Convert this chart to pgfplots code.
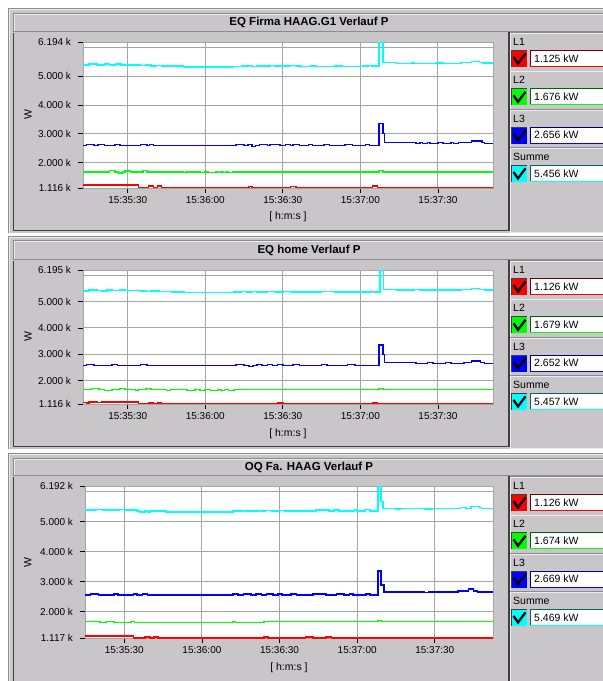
\documentclass[border=0pt]{standalone}
\usepackage{fontspec}
\setmainfont{Liberation Sans}
\usepackage{pgfplots}
\pgfplotsset{compat=1.18}
\definecolor{bg}{RGB}{200,198,200}
\definecolor{dk}{RGB}{64,64,64}
\definecolor{midg}{RGB}{140,140,140}
\definecolor{ltg}{RGB}{236,236,236}
\definecolor{grd}{RGB}{165,165,165}
\definecolor{cLa}{RGB}{255,0,0}
\definecolor{cLb}{RGB}{0,255,0}
\definecolor{cLc}{RGB}{0,0,255}
\definecolor{cS}{RGB}{0,255,255}
\definecolor{dLa}{RGB}{110,0,0}
\definecolor{dLb}{RGB}{0,100,0}
\definecolor{dLc}{RGB}{0,0,110}
\definecolor{dS}{RGB}{0,100,100}
\newcommand{\tfont}{\fontsize{11.5}{13}\selectfont\bfseries}
\newcommand{\lfont}{\fontsize{10.5}{12}\selectfont}
\newcommand{\panel}[5]{%
  \fill[bg] (8,#1) rectangle (610,#4+2);
  \draw[midg] (8.5,#4+2) -- (8.5,#1+0.5) -- (610,#1+0.5);
  \draw[ltg] (9.5,#4+2) -- (9.5,#1+1.5) -- (610,#1+1.5);
  \draw[midg,line width=1pt] (13.5,#3-0.5) -- (13.5,#2+0.5) -- (612,#2+0.5);
  \draw[ltg] (14.5,#3-1.5) -- (14.5,#2+1.5) -- (612,#2+1.5);
  \draw[midg,line width=1pt] (13.5,#3-0.5) -- (612,#3-0.5);
  \node[font=\tfont,inner sep=0pt] at (309,{(#2+#3)/2}) {#5};
  \draw[dk,line width=1pt] (13.5,#4) -- (13.5,#3+0.5);
  \draw[dk,line width=1.5pt] (13,#4-0.75) -- (509,#4-0.75) -- (509,#3);
  \draw[ltg] (510.5,#3+0.5) -- (510.5,#4+1) -- (612,#4+1);
}
\newcommand{\lentry}[6]{%
  \draw[midg] (510,#1-0.5) -- (612,#1-0.5);
  \draw[ltg,line width=1pt] (510,#1+0.5) -- (612,#1+0.5);
  \node[anchor=west,font=\lfont,inner sep=0pt] at (513,#1+9) {#2};
  \fill[#3] (511,#1+17) rectangle (527,#1+34);
  \draw[dk,line width=1pt] (511.5,#1+34) -- (511.5,#1+17.5) -- (527,#1+17.5);
  \draw[black,line width=2.3pt] (513.5,#1+24) -- (518,#1+30.5) -- (525.5,#1+20.5);
  \fill[white] (529.5,#1+17) rectangle (612,#1+34);
  \draw[#4,line width=1pt] (530,#1+34) -- (530,#1+17.5) -- (612,#1+17.5);
  \draw[#3,line width=1pt] (530,#1+33.5) -- (612,#1+33.5);
  \node[anchor=west,font=\lfont,inner sep=0pt] at (534,#1+25.5) {#5};
}
\pgfplotsset{
  panel/.style={
    scale only axis,
    anchor=south west,
    axis background/.style={fill=white},
    axis line style={draw=grd},
    xtick={30,60,90,120,150},
    xticklabels={15:35:30,15:36:00,15:36:30,15:37:00,15:37:30},
    xtick pos=left, ytick pos=left,
    tick align=outside,
    major tick length=5pt,
    minor tick length=0pt,
    tick style={black,line width=0.8pt},
    xmajorgrids=true,
    ymajorgrids=false,
    yminorgrids=true,
    minor ytick={2000,3000,4000,5000,6000},
    grid style={grd,line width=1pt},
    minor grid style={grd,line width=1pt},
    tick label style={font=\fontsize{10}{12}\selectfont},
    yticklabel style={xshift=-3.5pt},
    label style={font=\fontsize{10.5}{12}\selectfont},
    xlabel={[ h:m:s ]},
    ylabel={W},
    every axis plot/.append style={const plot,line width=1.6pt},
  }
}
\begin{document}
\begin{tikzpicture}
\useasboundingbox (0,0) rectangle (603pt,-681pt);
\begin{scope}
\clip (0,0) rectangle (603pt,-681pt);
\begin{scope}[x=1pt,y=-1pt]
\fill[white] (0,0) rectangle (603,681);
\panel{8}{13}{32}{231}{EQ Firma HAAG.G1 Verlauf P}
\panel{236}{240}{260}{447}{EQ home Verlauf P}
\panel{453}{458}{476}{690}{OQ Fa. HAAG Verlauf P}
\end{scope}

% ---------- Panel 1 ----------
\begin{axis}[panel, at={(83pt,-188pt)}, width=410pt, height=146pt,
  xmin=12.7, xmax=171.3, ymin=1116, ymax=6194,
  ytick={1116,2000,3000,4000,5000,6194},
  yticklabels={1.116 k,2.000 k,3.000 k,4.000 k,5.000 k,6.194 k},
  xlabel style={at={(axis description cs:0.5,-0.199)},anchor=center},
  ylabel style={at={(axis description cs:-0.134,0.5)},anchor=center}]
\addplot[cS] coordinates {(12.7,5400)(15,5430)(18,5400)(21,5430)(23,5400)(25.5,5425)(27.5,5400)(32,5385)(35,5370)(37,5390)(39,5365)(41,5370)(43,5355)(47,5360)(51.5,5315)(70.8,5340)(74,5350)(77,5370)(78,5340)(80,5355)(85,5375)(87,5355)(90,5360)(93,5370)(95,5350)(97,5345)(101,5355)(103,5340)(110,5350)(113,5345)(121,5350)(123,5370)(124.5,5350)(127.3,6194)(128.8,5475)(134,5452)(140,5470)(141,5452)(149,5460)(151,5470)(152,5452)(159,5475)(163,5510)(166,5480)(167.5,5460)(171.3,5460)};
\addplot[cLc] coordinates {(12.7,2588)(14,2623)(17,2588)(18.5,2623)(21,2588)(25,2623)(27,2588)(35,2623)(37.5,2588)(38.5,2623)(40,2588)(72,2623)(75,2588)(76.5,2623)(78,2553)(79.5,2588)(81,2623)(84,2588)(85,2623)(89,2588)(91,2623)(93,2588)(94,2623)(96.5,2588)(100,2623)(101.5,2588)(106,2623)(108,2588)(114,2623)(117,2588)(122,2623)(123.5,2588)(127.3,3366)(128.8,3018)(129.3,2692)(141.5,2658)(143,2692)(144,2658)(146,2692)(147,2658)(150,2692)(152,2658)(155,2692)(156,2658)(158,2692)(163,2750)(167,2692)(168,2658)(171.3,2658)};
\addplot[cLb] coordinates {(12.7,1683)(23,1718)(25,1683)(26.5,1648)(28,1683)(29,1710)(31,1683)(36,1718)(37.5,1683)(51.5,1650)(52.5,1683)(58,1650)(60,1683)(61,1650)(64,1683)(65,1650)(66,1683)(67,1650)(68,1683)(69,1650)(70.5,1683)(127.3,1718)(128.8,1683)(171.3,1683)};
\addplot[cLa] coordinates {(12.7,1220)(34.1,1140)(38,1180)(40,1140)(41.5,1180)(43,1140)(77,1175)(78,1140)(93,1175)(95,1140)(124.7,1180)(126.6,1140)(171.3,1140)};
\end{axis}

% ---------- Panel 2 ----------
\begin{axis}[panel, at={(83pt,-404pt)}, width=410pt, height=134pt,
  xmin=12.7, xmax=171.3, ymin=1116, ymax=6195,
  ytick={1116,2000,3000,4000,5000,6195},
  yticklabels={1.116 k,2.000 k,3.000 k,4.000 k,5.000 k,6.195 k},
  xlabel style={at={(axis description cs:0.5,-0.224)},anchor=center},
  ylabel style={at={(axis description cs:-0.134,0.5)},anchor=center}]
\addplot[cS] coordinates {(12.7,5410)(15,5445)(18,5420)(20,5410)(22,5440)(24,5415)(27,5445)(29,5420)(35,5400)(37,5380)(39,5400)(42,5375)(45,5385)(47,5370)(52,5350)(71,5360)(74,5375)(76,5360)(78,5380)(80,5360)(84,5385)(87,5365)(90,5380)(93,5370)(96,5365)(105,5375)(110,5360)(118,5370)(124,5385)(125,5365)(127.5,6195)(129,5450)(134,5435)(141,5450)(143,5435)(152,5445)(159,5460)(163,5490)(166,5460)(168,5440)(171.3,5440)};
\addplot[cLc] coordinates {(12.7,2583)(14,2621)(17,2583)(24,2621)(26,2583)(35,2621)(37.5,2583)(72,2621)(75,2583)(77,2545)(78.5,2583)(80,2621)(82,2583)(84,2621)(86,2583)(88,2621)(90,2583)(94,2621)(96.5,2583)(105,2621)(107,2583)(115,2621)(118,2583)(127.3,3352)(128.8,3000)(129.3,2690)(141.5,2655)(146,2690)(148,2655)(153,2690)(155,2655)(160,2690)(163,2735)(166.5,2690)(168,2655)(171.3,2655)};
\addplot[cLb] coordinates {(12.7,1673)(16,1711)(19,1673)(21,1635)(24,1673)(27,1711)(29,1673)(33,1635)(34,1673)(37,1711)(39,1673)(45,1635)(46.5,1673)(53,1635)(56,1673)(58,1635)(60,1673)(62,1635)(65,1673)(66,1635)(67.5,1673)(69,1635)(71,1673)(127.3,1711)(128.8,1673)(171.3,1673)};
\addplot[cLa] coordinates {(12.7,1180)(14,1165)(15,1185)(18,1170)(20,1190)(27,1195)(30,1185)(34.1,1130)(38,1165)(40,1130)(41.5,1165)(43,1130)(88,1160)(90,1130)(124.7,1165)(126.6,1130)(171.3,1130)};
\end{axis}

% ---------- Panel 3 ----------
\begin{axis}[panel, at={(85pt,-638.3pt)}, width=408pt, height=152.3pt,
  xmin=14.8, xmax=172.5, ymin=1117, ymax=6192,
  ytick={1117,2000,3000,4000,5000,6192},
  yticklabels={1.117 k,2.000 k,3.000 k,4.000 k,5.000 k,6.192 k},
  xlabel style={at={(axis description cs:0.5,-0.195)},anchor=center},
  ylabel style={at={(axis description cs:-0.140,0.5)},anchor=center}]
\addplot[cS] coordinates {(14.8,5392)(19,5414)(21.5,5392)(28,5414)(30,5392)(35,5359)(36,5325)(38,5359)(39,5325)(40,5359)(46,5325)(72,5359)(76,5380)(77,5359)(82,5380)(83,5359)(84.5,5380)(87,5359)(90,5380)(92,5359)(104,5392)(109,5359)(111,5392)(113,5359)(119,5392)(120,5359)(123,5414)(125,5359)(128,6192)(129.3,5669)(129.9,5448)(135,5425)(136.5,5448)(146,5425)(149,5448)(160,5481)(162,5448)(164,5514)(167,5481)(168,5448)(172.5,5448)};
\addplot[cLc] coordinates {(14.8,2559)(17,2592)(20,2559)(26,2592)(27.5,2559)(33.5,2592)(35,2559)(37,2592)(39,2559)(72,2592)(74,2559)(76,2592)(79,2559)(81,2592)(83,2559)(85,2592)(87.5,2559)(89.5,2592)(91,2559)(94.5,2592)(96.5,2559)(103,2592)(108,2559)(112,2592)(115,2559)(117,2592)(118.5,2559)(123.5,2592)(125,2559)(128,3360)(129.3,2892)(130.3,2670)(146,2640)(147.5,2670)(159,2703)(163,2770)(165,2703)(166.5,2670)(172.5,2670)};
\addplot[cLb] coordinates {(14.8,1682)(20.6,1648)(23,1682)(26,1648)(32.5,1682)(34,1648)(72,1682)(73,1648)(84,1682)(128,1715)(129.3,1682)(172.5,1682)};
\addplot[cLa] coordinates {(14.8,1192)(33.5,1130)(38,1165)(40,1130)(41.5,1165)(43,1130)(84,1155)(85.5,1130)(100,1165)(103,1130)(108,1165)(110,1130)(172.5,1130)};
\end{axis}

\begin{scope}[x=1pt,y=-1pt]
\lentry{33}{L1}{cLa}{dLa}{1.125 kW}{}
\lentry{71.3}{L2}{cLb}{dLb}{1.676 kW}{}
\lentry{109.6}{L3}{cLc}{dLc}{2.656 kW}{}
\lentry{147.9}{Summe}{cS}{dS}{5.456 kW}{}
\lentry{261}{L1}{cLa}{dLa}{1.126 kW}{}
\lentry{299.3}{L2}{cLb}{dLb}{1.679 kW}{}
\lentry{337.6}{L3}{cLc}{dLc}{2.652 kW}{}
\lentry{375.9}{Summe}{cS}{dS}{5.457 kW}{}
\lentry{477}{L1}{cLa}{dLa}{1.126 kW}{}
\lentry{515.3}{L2}{cLb}{dLb}{1.674 kW}{}
\lentry{553.6}{L3}{cLc}{dLc}{2.669 kW}{}
\lentry{591.9}{Summe}{cS}{dS}{5.469 kW}{}
\end{scope}
\end{scope}
\end{tikzpicture}
\end{document}
